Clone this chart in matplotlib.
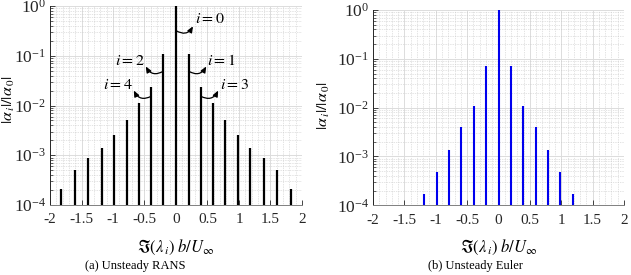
import numpy as np
import matplotlib
matplotlib.use("Agg")
import matplotlib.pyplot as plt
from matplotlib.ticker import LogLocator, MultipleLocator

plt.rcParams['font.family'] = ['Liberation Serif', 'DejaVu Serif']
plt.rcParams['mathtext.fontset'] = 'stix'
plt.rcParams['axes.unicode_minus'] = False

# Data: RANS (left)
rans_freq = [0.0, 0.20, 0.39, 0.59, 0.78, 0.98, 1.18, 1.40, 1.61, 1.83]
rans_amp = [1.0, 0.108, 0.0233, 0.011, 0.0051, 0.0026, 0.0014, 0.00087, 0.00051, 0.000205]
# Data: Euler (right)
euler_freq = [0.0, 0.197, 0.394, 0.59, 0.79, 0.985, 1.18]
euler_amp = [1.0, 0.0711, 0.0108, 0.0040, 0.00135, 0.00049, 0.00017]

xticks = [-2, -1.5, -1, -0.5, 0, 0.5, 1, 1.5, 2]
xticklabels = ['-2', '-1.5', '-1', '-0.5', '0', '0.5', '1', '1.5', '2']
ylabel = r'$|\alpha_{\,i}|/|\alpha_{\,0}|$'
xlabel = r'$\Im(\lambda_{\,i})\; b/U_{\infty}$'
captions = ['(a) Unsteady RANS', '(b) Unsteady Euler']

fig = plt.figure(figsize=(6.31, 2.75), dpi=100)
axL = fig.add_axes([50/631, 1-205/275, 252/631, 199/275])
axR = fig.add_axes([373/631, 1-205.3/275, 251/631, 195.3/275])


def mirror(f, a):
    xs = [-v for v in f[:0:-1]] + list(f)
    ys = list(a[:0:-1]) + list(a)
    return xs, ys


def style(ax, ylab_x, ylab_y):
    ax.set_yscale('log')
    ax.set_xlim(-2, 2)
    ax.set_ylim(1e-4, 1)
    ax.set_xticks(xticks)
    ax.set_xticklabels(xticklabels)
    ax.xaxis.set_minor_locator(MultipleLocator(0.1))
    ax.yaxis.set_major_locator(LogLocator(base=10, numticks=10))
    ax.yaxis.set_minor_locator(LogLocator(base=10, subs=np.arange(2, 10), numticks=20))
    ax.grid(True, which='major', color='#dcdcdc', linewidth=0.7, linestyle='-')
    ax.grid(True, which='minor', color='#c8c8c8', linewidth=0.5, linestyle=(0, (1, 1.5)))
    ax.set_axisbelow(True)
    for s in ['top', 'right']:
        ax.spines[s].set_visible(False)
    ax.spines['left'].set_color('#262626')
    ax.spines['bottom'].set_color('#808080')
    ax.spines['left'].set_linewidth(0.7)
    ax.spines['bottom'].set_linewidth(0.7)
    ax.tick_params(which='both', direction='in', colors='#262626',
                   top=False, right=False)
    ax.tick_params(axis='x', labelsize=11, pad=6)
    ax.tick_params(axis='y', labelsize=12.5, pad=3)
    ax.tick_params(which='major', length=3.5, width=0.6)
    ax.tick_params(which='minor', length=2, width=0.5)
    ax.tick_params(axis='x', which='minor', length=0)
    ax.set_xlabel(xlabel, fontsize=12)
    ax.set_ylabel(ylabel, fontsize=11.5)
    ax.xaxis.set_label_coords(0.5, -0.165)
    ax.yaxis.set_label_coords(ylab_x, ylab_y)


xs, ys = mirror(rans_freq, rans_amp)
axL.vlines(xs, 1e-4, ys, colors='black', linewidth=1.6)
xs, ys = mirror(euler_freq, euler_amp)
axR.vlines(xs, 1e-4, ys, colors='#0000ee', linewidth=1.5)
style(axL, -0.132, 0.53)
style(axR, -0.165, 0.51)

# annotations (left)
ann = [
    (r'$i=0$', (0.0, 0.32), (0.27, 0.39), (0.53, 0.55), 0.5),
    (r'$i=1$', (0.20, 0.049), (0.48, 0.061), (0.71, 0.077), 0.5),
    (r'$i=2$', (-0.20, 0.049), (-0.48, 0.061), (-0.74, 0.077), -0.5),
    (r'$i=3$', (0.39, 0.0154), (0.67, 0.020), (0.93, 0.026), 0.5),
    (r'$i=4$', (-0.39, 0.0154), (-0.67, 0.020), (-0.93, 0.026), -0.5),
]
for txt, start, tip, tpos, rad in ann:
    axL.annotate('', xy=tip, xytext=start,
                 arrowprops=dict(arrowstyle='-|>,head_length=0.35,head_width=0.15',
                                 color='black', lw=0.9, shrinkA=0, shrinkB=0,
                                 connectionstyle=f'arc3,rad={rad}'))
    axL.text(tpos[0], tpos[1], txt, fontsize=11.5, ha='center', va='center')

fig.text(135/631, 1-266/275, captions[0], fontsize=9, ha='center', va='center')
fig.text(475/631, 1-266.5/275, captions[1], fontsize=9, ha='center', va='center')

fig.savefig('out.png', dpi=100)
